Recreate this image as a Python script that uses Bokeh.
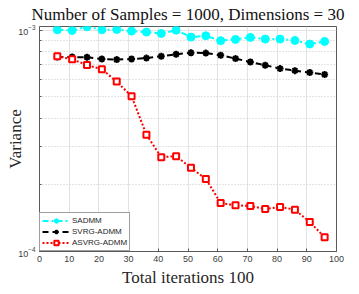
from bokeh.plotting import figure
from bokeh.models import Range1d, FixedTicker, LogTickFormatter
from bokeh.embed import file_html
from bokeh.resources import INLINE

# ---- data ----
iterations = [6, 11, 16, 21, 26, 31, 36, 41, 46, 51, 56, 61, 66, 71, 76, 81, 86, 91, 96]
sadmm = [1.007e-3, 1.000e-3, 1.039e-3, 1.007e-3, 1.010e-3, 0.993e-3, 0.983e-3, 0.969e-3,
         1.003e-3, 0.933e-3, 0.946e-3, 0.899e-3, 0.911e-3, 0.930e-3, 0.914e-3, 0.914e-3,
         0.901e-3, 0.868e-3, 0.892e-3]
svrg_admm = [0.758e-3, 0.758e-3, 0.756e-3, 0.743e-3, 0.738e-3, 0.743e-3, 0.750e-3, 0.764e-3,
             0.780e-3, 0.793e-3, 0.790e-3, 0.772e-3, 0.746e-3, 0.720e-3, 0.696e-3, 0.672e-3,
             0.658e-3, 0.645e-3, 0.632e-3]
asvrg_admm = [0.764e-3, 0.740e-3, 0.698e-3, 0.667e-3, 0.587e-3, 0.504e-3, 0.3376e-3, 0.267e-3,
              0.270e-3, 0.239e-3, 0.213e-3, 0.1658e-3, 0.1617e-3, 0.1607e-3, 0.1557e-3,
              0.159e-3, 0.1546e-3, 0.136e-3, 0.116e-3]
x_ticks = [0, 10, 20, 30, 40, 50, 60, 70, 80, 90, 100]
y_major_ticks = [1e-4, 1e-3]
y_minor_ticks = [2e-4, 3e-4, 4e-4, 5e-4, 6e-4, 7e-4, 8e-4, 9e-4]
title_text = "Number of Samples = 1000, Dimensions = 30"
x_label = "Total iterations 100"
y_label = "Variance"

AX = "#5a5a5a"
TICK_TXT = "#404040"

p = figure(width=359, height=294, y_axis_type="log",
           x_range=Range1d(0, 100), y_range=Range1d(1e-4, 1.042e-3),
           output_backend="svg", toolbar_location=None,
           min_border_left=39, min_border_right=23, min_border_top=26, min_border_bottom=43,
           title=title_text)
p.outline_line_color = AX
p.background_fill_color = "white"
p.border_fill_color = "white"
p.title.text_font = "Liberation Serif"
p.title.text_font_size = "17px"
p.title.text_font_style = "normal"
p.title.text_color = "#111111"
p.title.align = "center"
p.title.standoff = 5
p.title.offset = 0

# x axis
xa = p.xaxis[0]
xa.ticker = FixedTicker(ticks=x_ticks)
xa.major_tick_in = 3
xa.major_tick_out = 0
xa.minor_tick_line_color = None
xa.axis_line_color = AX
xa.major_tick_line_color = AX
xa.major_label_text_font = "Liberation Sans"
xa.major_label_text_font_size = "9px"
xa.major_label_text_color = TICK_TXT
xa.major_label_standoff = 4
xa.axis_label = x_label
xa.axis_label_text_font = "Liberation Serif"
xa.axis_label_text_font_size = "17px"
xa.axis_label_text_font_style = "normal"
xa.axis_label_text_color = "#262626"
xa.axis_label_standoff = 3

# y axis
ya = p.yaxis[0]
ya.ticker = FixedTicker(ticks=y_major_ticks, minor_ticks=y_minor_ticks)
ya.formatter = LogTickFormatter()
ya.major_tick_in = 3
ya.major_tick_out = 0
ya.minor_tick_in = 2
ya.minor_tick_out = 0
ya.axis_line_color = AX
ya.major_tick_line_color = AX
ya.minor_tick_line_color = AX
ya.major_label_text_font = "Liberation Sans"
ya.major_label_text_font_size = "9px"
ya.major_label_text_color = TICK_TXT
ya.major_label_standoff = 4
ya.axis_label = y_label
ya.axis_label_text_font = "Liberation Serif"
ya.axis_label_text_font_size = "17px"
ya.axis_label_text_font_style = "normal"
ya.axis_label_text_color = "#262626"
ya.axis_label_standoff = -10

# grids
p.xgrid.grid_line_color = "#e3e3e3"
p.xgrid.grid_line_width = 1
p.ygrid.grid_line_color = "#e3e3e3"
p.ygrid.minor_grid_line_color = "#c8c8c8"
p.ygrid.minor_grid_line_dash = "1 2"

# series
p.line(iterations, sadmm, line_color="#00ffff", line_width=2, line_dash="6 3 2 3", legend_label="SADMM")
p.scatter(iterations, sadmm, marker="circle", size=8, fill_color="#00ffff", line_color="#00ffff",
          legend_label="SADMM")
p.line(iterations, svrg_admm, line_color="black", line_width=2, line_dash="6 4", legend_label="SVRG-ADMM")
p.scatter(iterations, svrg_admm, marker="asterisk", size=7, line_color="black", line_width=2,
          legend_label="SVRG-ADMM")
p.line(iterations, asvrg_admm, line_color="red", line_width=2, line_dash="2 2", legend_label="ASVRG-ADMM")
p.scatter(iterations, asvrg_admm, marker="square", size=6, fill_color="white", line_color="red",
          line_width=2, legend_label="ASVRG-ADMM")

lg = p.legend[0]
lg.location = "bottom_left"
lg.margin = 0
lg.padding = 2
lg.spacing = 0
lg.glyph_width = 28
lg.glyph_height = 11
lg.label_height = 11
lg.label_standoff = 2
lg.label_text_font = "Liberation Sans"
lg.label_text_font_size = "8px"
lg.label_text_color = "#262626"
lg.border_line_color = "#404040"
lg.border_line_width = 1
lg.background_fill_alpha = 1

open("out.html", "w").write(file_html(p, INLINE))
